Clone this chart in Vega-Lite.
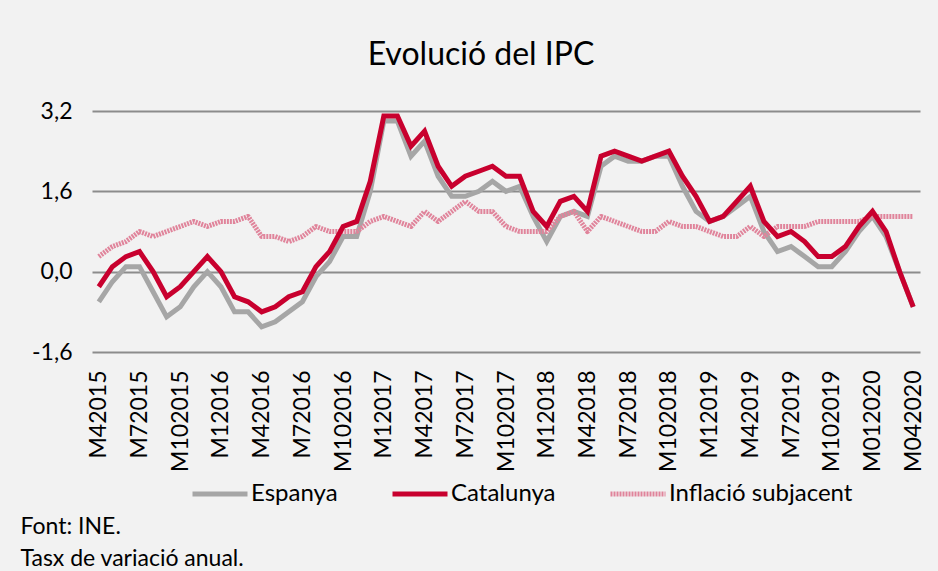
{
  "$schema": "https://vega.github.io/schema/vega-lite/v6.json",
  "autosize": {"type": "none"},
  "width": 828,
  "height": 241,
  "padding": {"left": 92, "top": 111, "right": 18, "bottom": 219},
  "background": "#f2f2f2",
  "config": {
    "view": {"stroke": null},
    "font": "Lato",
    "text": {"font": "Lato"}
  },
  "title": {
    "text": "Evolució del IPC",
    "font": "Lato",
    "fontSize": 32,
    "fontWeight": "normal",
    "color": "#000000",
    "anchor": "middle",
    "frame": "group",
    "dx": -25,
    "offset": 28
  },
  "data": {
    "values": [
      {"m": "M42015", "Espanya": -0.6, "Catalunya": -0.3, "Inflació subjacent": 0.3},
      {"m": "M52015", "Espanya": -0.2, "Catalunya": 0.1, "Inflació subjacent": 0.5},
      {"m": "M62015", "Espanya": 0.1, "Catalunya": 0.3, "Inflació subjacent": 0.6},
      {"m": "M72015", "Espanya": 0.1, "Catalunya": 0.4, "Inflació subjacent": 0.8},
      {"m": "M82015", "Espanya": -0.4, "Catalunya": 0.0, "Inflació subjacent": 0.7},
      {"m": "M92015", "Espanya": -0.9, "Catalunya": -0.5, "Inflació subjacent": 0.8},
      {"m": "M102015", "Espanya": -0.7, "Catalunya": -0.3, "Inflació subjacent": 0.9},
      {"m": "M112015", "Espanya": -0.3, "Catalunya": 0.0, "Inflació subjacent": 1.0},
      {"m": "M122015", "Espanya": 0.0, "Catalunya": 0.3, "Inflació subjacent": 0.9},
      {"m": "M12016", "Espanya": -0.3, "Catalunya": 0.0, "Inflació subjacent": 1.0},
      {"m": "M22016", "Espanya": -0.8, "Catalunya": -0.5, "Inflació subjacent": 1.0},
      {"m": "M32016", "Espanya": -0.8, "Catalunya": -0.6, "Inflació subjacent": 1.1},
      {"m": "M42016", "Espanya": -1.1, "Catalunya": -0.8, "Inflació subjacent": 0.7},
      {"m": "M52016", "Espanya": -1.0, "Catalunya": -0.7, "Inflació subjacent": 0.7},
      {"m": "M62016", "Espanya": -0.8, "Catalunya": -0.5, "Inflació subjacent": 0.6},
      {"m": "M72016", "Espanya": -0.6, "Catalunya": -0.4, "Inflació subjacent": 0.7},
      {"m": "M82016", "Espanya": -0.1, "Catalunya": 0.1, "Inflació subjacent": 0.9},
      {"m": "M92016", "Espanya": 0.2, "Catalunya": 0.4, "Inflació subjacent": 0.8},
      {"m": "M102016", "Espanya": 0.7, "Catalunya": 0.9, "Inflació subjacent": 0.8},
      {"m": "M112016", "Espanya": 0.7, "Catalunya": 1.0, "Inflació subjacent": 0.8},
      {"m": "M122016", "Espanya": 1.6, "Catalunya": 1.8, "Inflació subjacent": 1.0},
      {"m": "M12017", "Espanya": 3.0, "Catalunya": 3.1, "Inflació subjacent": 1.1},
      {"m": "M22017", "Espanya": 3.0, "Catalunya": 3.1, "Inflació subjacent": 1.0},
      {"m": "M32017", "Espanya": 2.3, "Catalunya": 2.5, "Inflació subjacent": 0.9},
      {"m": "M42017", "Espanya": 2.6, "Catalunya": 2.8, "Inflació subjacent": 1.2},
      {"m": "M52017", "Espanya": 1.9, "Catalunya": 2.1, "Inflació subjacent": 1.0},
      {"m": "M62017", "Espanya": 1.5, "Catalunya": 1.7, "Inflació subjacent": 1.2},
      {"m": "M72017", "Espanya": 1.5, "Catalunya": 1.9, "Inflació subjacent": 1.4},
      {"m": "M82017", "Espanya": 1.6, "Catalunya": 2.0, "Inflació subjacent": 1.2},
      {"m": "M92017", "Espanya": 1.8, "Catalunya": 2.1, "Inflació subjacent": 1.2},
      {"m": "M102017", "Espanya": 1.6, "Catalunya": 1.9, "Inflació subjacent": 0.9},
      {"m": "M112017", "Espanya": 1.7, "Catalunya": 1.9, "Inflació subjacent": 0.8},
      {"m": "M122017", "Espanya": 1.1, "Catalunya": 1.2, "Inflació subjacent": 0.8},
      {"m": "M12018", "Espanya": 0.6, "Catalunya": 0.9, "Inflació subjacent": 0.8},
      {"m": "M22018", "Espanya": 1.1, "Catalunya": 1.4, "Inflació subjacent": 1.1},
      {"m": "M32018", "Espanya": 1.2, "Catalunya": 1.5, "Inflació subjacent": 1.2},
      {"m": "M42018", "Espanya": 1.1, "Catalunya": 1.2, "Inflació subjacent": 0.8},
      {"m": "M52018", "Espanya": 2.1, "Catalunya": 2.3, "Inflació subjacent": 1.1},
      {"m": "M62018", "Espanya": 2.3, "Catalunya": 2.4, "Inflació subjacent": 1.0},
      {"m": "M72018", "Espanya": 2.2, "Catalunya": 2.3, "Inflació subjacent": 0.9},
      {"m": "M82018", "Espanya": 2.2, "Catalunya": 2.2, "Inflació subjacent": 0.8},
      {"m": "M92018", "Espanya": 2.3, "Catalunya": 2.3, "Inflació subjacent": 0.8},
      {"m": "M102018", "Espanya": 2.3, "Catalunya": 2.4, "Inflació subjacent": 1.0},
      {"m": "M112018", "Espanya": 1.7, "Catalunya": 1.9, "Inflació subjacent": 0.9},
      {"m": "M122018", "Espanya": 1.2, "Catalunya": 1.5, "Inflació subjacent": 0.9},
      {"m": "M12019", "Espanya": 1.0, "Catalunya": 1.0, "Inflació subjacent": 0.8},
      {"m": "M22019", "Espanya": 1.1, "Catalunya": 1.1, "Inflació subjacent": 0.7},
      {"m": "M32019", "Espanya": 1.3, "Catalunya": 1.4, "Inflació subjacent": 0.7},
      {"m": "M42019", "Espanya": 1.5, "Catalunya": 1.7, "Inflació subjacent": 0.9},
      {"m": "M52019", "Espanya": 0.8, "Catalunya": 1.0, "Inflació subjacent": 0.7},
      {"m": "M62019", "Espanya": 0.4, "Catalunya": 0.7, "Inflació subjacent": 0.9},
      {"m": "M72019", "Espanya": 0.5, "Catalunya": 0.8, "Inflació subjacent": 0.9},
      {"m": "M82019", "Espanya": 0.3, "Catalunya": 0.6, "Inflació subjacent": 0.9},
      {"m": "M92019", "Espanya": 0.1, "Catalunya": 0.3, "Inflació subjacent": 1.0},
      {"m": "M102019", "Espanya": 0.1, "Catalunya": 0.3, "Inflació subjacent": 1.0},
      {"m": "M112019", "Espanya": 0.4, "Catalunya": 0.5, "Inflació subjacent": 1.0},
      {"m": "M122019", "Espanya": 0.8, "Catalunya": 0.9, "Inflació subjacent": 1.0},
      {"m": "M012020", "Espanya": 1.1, "Catalunya": 1.2, "Inflació subjacent": 1.1},
      {"m": "M022020", "Espanya": 0.7, "Catalunya": 0.8, "Inflació subjacent": 1.1},
      {"m": "M032020", "Espanya": 0.0, "Catalunya": 0.0, "Inflació subjacent": 1.1},
      {"m": "M042020", "Espanya": -0.7, "Catalunya": -0.7, "Inflació subjacent": 1.1}
    ]
  },
  "transform": [
    {"fold": ["Espanya", "Inflació subjacent", "Catalunya"], "as": ["serie", "valor"]}
  ],
  "encoding": {
    "x": {
      "field": "m",
      "type": "ordinal",
      "sort": null,
      "scale": {"type": "point", "padding": 0.5},
      "axis": {
        "values": ["M42015", "M72015", "M102015", "M12016", "M42016", "M72016", "M102016", "M12017", "M42017", "M72017", "M102017", "M12018", "M42018", "M72018", "M102018", "M12019", "M42019", "M72019", "M102019", "M012020", "M042020"],
        "labelAngle": -90,
        "labelFont": "Lato",
        "labelFontSize": 23,
        "labelColor": "#000000",
        "labelPadding": 18,
        "labelOverlap": false,
        "labelBound": false,
        "labelFlush": false,
        "domain": false,
        "ticks": false,
        "grid": false,
        "title": ["Font: INE.", "Tasx de variació anual."],
        "titleFont": "Lato",
        "titleFontSize": 23,
        "titleFontWeight": "normal",
        "titleColor": "#000000",
        "titleAnchor": "start",
        "titleAlign": "left",
        "titleAngle": 0,
        "titleBaseline": "alphabetic",
        "titleLineHeight": 32,
        "titleX": -72,
        "titleY": 181
      }
    },
    "y": {
      "field": "valor",
      "type": "quantitative",
      "scale": {"domain": [-1.6, 3.2], "nice": false, "zero": false},
      "axis": {
        "values": [-1.6, 0, 1.6, 3.2],
        "labelExpr": "replace(replace(format(datum.value, '.1f'), '.', ','), '\u2212', '-')",
        "labelFont": "Lato",
        "labelFontSize": 23,
        "labelColor": "#000000",
        "labelPadding": 20,
        "domain": false,
        "ticks": false,
        "grid": true,
        "gridColor": "#8c8c8c",
        "gridWidth": 2,
        "title": null
      }
    },
    "color": {
      "field": "serie",
      "type": "nominal",
      "scale": {
        "domain": ["Espanya", "Catalunya", "Inflació subjacent"],
        "range": ["#a6a6a6", "#c8002e", "#e0849b"]
      },
      "legend": {
        "orient": "none",
        "legendX": 98,
        "legendY": 353,
        "direction": "horizontal",
        "title": null,
        "symbolType": "stroke",
        "symbolSize": 3025,
        "symbolStrokeWidth": 5,
        "labelFont": "Lato",
        "labelFontSize": 24,
        "labelLimit": 0,
        "labelColor": "#000000",
        "labelOffset": 1,
        "columnPadding": 44,
        "encode": {
          "symbols": {
            "update": {
              "strokeDash": {"signal": "datum.value === 'Inflació subjacent' ? [2, 1] : [1, 0]"}
            }
          }
        }
      }
    }
  },
  "layer": [
    {
      "transform": [{"filter": "datum.serie === 'Espanya'"}],
      "mark": {"type": "line", "strokeWidth": 5, "strokeJoin": "miter"}
    },
    {
      "transform": [{"filter": "datum.serie === 'Inflació subjacent'"}],
      "mark": {"type": "line", "strokeWidth": 5, "strokeDash": [2, 1], "strokeJoin": "round"}
    },
    {
      "transform": [{"filter": "datum.serie === 'Catalunya'"}],
      "mark": {"type": "line", "strokeWidth": 5, "strokeJoin": "miter"}
    }
  ]
}
